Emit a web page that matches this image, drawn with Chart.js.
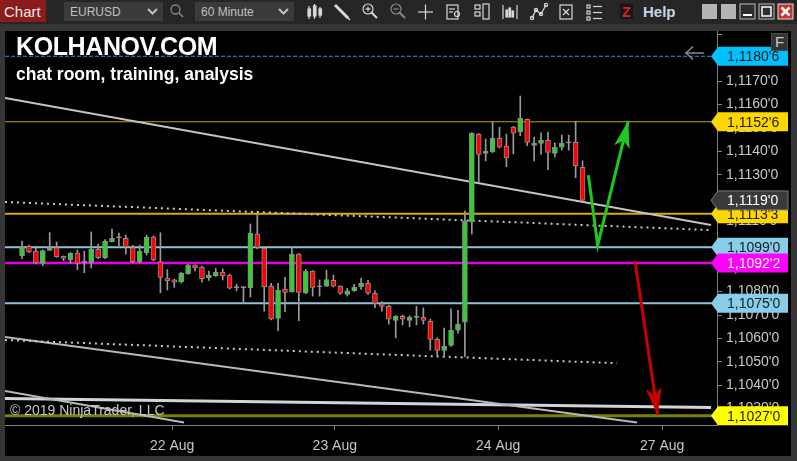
<!DOCTYPE html>
<html>
<head>
<meta charset="utf-8">
<script src="https://cdn.jsdelivr.net/npm/chart.js@4.4.1/dist/chart.umd.min.js"></script>
<style>
  html, body { margin:0; padding:0; width:797px; height:461px; overflow:hidden; background:#363636;
    font-family:"Liberation Sans", Arial, sans-serif; }
  #toolbar { position:absolute; left:0; top:0; }
  #panel { position:absolute; left:5px; top:31px; width:786px; height:425px; background:#000; }
  .txt { position:absolute; white-space:nowrap; line-height:1; color:#fff; font-weight:bold; }
  #fbox { position:absolute; left:771px; top:33px; width:15px; height:16px; background:#343434;
    border:1px solid #4a4a4a; color:#c8c8c8; font-size:15px; text-align:center; line-height:16px; }
</style>
</head>
<body>
<svg id="toolbar" width="797" height="24" xmlns="http://www.w3.org/2000/svg" font-family="Liberation Sans, Arial, sans-serif">
  <rect x="0" y="0" width="797" height="24" fill="#262626"/>
  <rect x="0" y="0" width="46" height="22" fill="#8b1c1c"/>
  <text x="4" y="17" font-size="15" fill="#e8e8e8">Chart</text>
  <rect x="64" y="2" width="99" height="19" fill="#3a3a3a"/>
  <text x="70" y="16" font-size="12" fill="#c0c0c0">EURUSD</text>
  <polyline points="148,9 152.5,13.5 157,9" fill="none" stroke="#c0c0c0" stroke-width="2"/>
  <circle cx="175.5" cy="9.5" r="4.5" fill="none" stroke="#8a8a8a" stroke-width="1.3"/>
  <line x1="178.8" y1="12.8" x2="183" y2="17" stroke="#8a8a8a" stroke-width="1.5"/>
  <rect x="195" y="2" width="99" height="19" fill="#3a3a3a"/>
  <text x="201" y="16" font-size="12" fill="#c0c0c0">60 Minute</text>
  <polyline points="279,9 283.5,13.5 288,9" fill="none" stroke="#c0c0c0" stroke-width="2"/>
  <g stroke="#d8d8d8" fill="#d8d8d8" stroke-width="1.2">
    <line x1="309" y1="6" x2="309" y2="19"/><rect x="308" y="9" width="2.5" height="7"/>
    <line x1="314.5" y1="4" x2="314.5" y2="19"/><rect x="313.5" y="6" width="2.5" height="10"/>
    <line x1="320" y1="7" x2="320" y2="18"/><rect x="319" y="9" width="2.5" height="6"/>
    <line x1="335" y1="5" x2="348" y2="18" stroke-width="3"/>
    <line x1="346" y1="16" x2="350" y2="20" stroke-width="1.5"/>
    <circle cx="368" cy="9" r="5" fill="none"/><line x1="371.5" y1="12.5" x2="377" y2="18" stroke-width="2"/>
    <line x1="365.5" y1="9" x2="370.5" y2="9"/><line x1="368" y1="6.5" x2="368" y2="11.5"/>
    <circle cx="396" cy="9" r="5" fill="none" stroke="#888"/><line x1="399.5" y1="12.5" x2="405" y2="18" stroke="#888" stroke-width="2"/>
    <line x1="393.5" y1="9" x2="398.5" y2="9" stroke="#888"/>
    <line x1="418" y1="12" x2="433" y2="12"/><line x1="425.5" y1="4.5" x2="425.5" y2="19.5"/>
    <rect x="447" y="5" width="11" height="14" fill="none"/><line x1="449" y1="9" x2="455" y2="9"/>
    <line x1="449" y1="12" x2="453" y2="12"/><circle cx="457" cy="14" r="2.5" fill="none"/>
    <rect x="475" y="5" width="5" height="4" fill="none"/><rect x="475" y="12" width="5" height="4" fill="none"/>
    <rect x="483" y="4" width="6" height="15" fill="none"/>
    <polyline points="503,5 503,19" fill="none"/><polyline points="517,5 517,19" fill="none"/>
    <rect x="506" y="10" width="1.5" height="7"/><rect x="509" y="8" width="1.5" height="9"/><rect x="512" y="11" width="1.5" height="6"/>
    <polyline points="532,18 536,10 541,14 546,5" fill="none"/>
    <circle cx="532" cy="18" r="1.6" fill="none"/><circle cx="536" cy="10" r="1.6" fill="none"/>
    <circle cx="541" cy="14" r="1.6" fill="none"/><circle cx="546" cy="5" r="1.6" fill="none"/>
    <rect x="560" y="5" width="12" height="14" fill="none"/><line x1="563" y1="9" x2="569" y2="15"/><line x1="569" y1="9" x2="563" y2="15"/>
    <rect x="587" y="5" width="3" height="3" fill="none"/><line x1="593" y1="6.5" x2="602" y2="6.5"/>
    <rect x="587" y="11" width="3" height="3" fill="none"/><line x1="593" y1="12.5" x2="602" y2="12.5"/>
    <rect x="587" y="17" width="3" height="3" fill="none"/><line x1="593" y1="18.5" x2="602" y2="18.5"/>
  </g>
  <rect x="620" y="4" width="13" height="15" fill="#161616"/>
  <text x="622" y="17" font-size="14" font-weight="bold" fill="#e02020">Z</text>
  <text x="643" y="17" font-size="15" font-weight="bold" fill="#c8d4e8">Help</text>
  <rect x="702" y="4" width="15" height="15" fill="#b4b4b4"/>
  <rect x="721" y="4" width="15" height="15" fill="#b4b4b4"/>
  <rect x="740" y="4" width="15" height="15" fill="#2e2e2e" stroke="#bbbbbb"/>
  <line x1="743" y1="15" x2="752" y2="15" stroke="#ffffff" stroke-width="2"/>
  <rect x="759" y="4" width="15" height="15" fill="#2e2e2e" stroke="#bbbbbb"/>
  <rect x="762" y="7" width="9" height="9" fill="none" stroke="#ffffff" stroke-width="1.5"/>
  <rect x="778" y="4" width="15" height="15" fill="#c83232" stroke="#dddddd"/>
  <line x1="781.5" y1="7.5" x2="789.5" y2="15.5" stroke="#ffffff" stroke-width="2.5"/>
  <line x1="789.5" y1="7.5" x2="781.5" y2="15.5" stroke="#ffffff" stroke-width="2.5"/>
</svg>

<div id="panel"><canvas id="priceChart"></canvas></div>

<div class="txt" style="left:16px;top:34px;font-size:25px;letter-spacing:-0.4px">KOLHANOV.COM</div>
<div class="txt" style="left:16px;top:66px;font-size:17.5px">chat room, training, analysis</div>
<div class="txt" style="left:10px;top:403px;font-size:14px;font-weight:normal;color:#c8c8c8">© 2019 NinjaTrader, LLC</div>
<div id="fbox">F</div>
<svg style="position:absolute;left:684px;top:45px" width="22" height="16">
  <line x1="2" y1="8" x2="20" y2="8" stroke="#8a8a8a" stroke-width="1.5"/>
  <polyline points="9,1.5 2,8 9,14.5" fill="none" stroke="#8a8a8a" stroke-width="1.5"/>
</svg>

<script>
// EURUSD 60 minute bars, 21-26 Aug
const candleOpen = [1.10953,1.10994,1.10973,1.10921,1.10976,1.10988,1.10951,1.10936,1.10965,1.10925,
  1.10925,1.10981,1.10945,1.11013,1.11030,1.11028,1.10988,1.10928,1.10966,1.11033,
  1.10929,1.10858,1.10850,1.10842,1.10876,1.10914,1.10905,1.10859,1.10868,1.10884,
  1.10871,1.10817,1.10817,1.10817,1.11046,1.10985,1.10823,1.10686,1.10811,1.10800,
  1.10961,1.10795,1.10888,1.10821,1.10823,1.10848,1.10823,1.10788,1.10804,1.10821,
  1.10835,1.10793,1.10748,1.10737,1.10677,1.10694,1.10677,1.10690,1.10690,1.10673,
  1.10596,1.10549,1.10570,1.10635,1.10669,1.11099,1.11472,1.11391,1.11398,1.11455,
  1.11422,1.11503,1.11483,1.11536,1.11425,1.11434,1.11447,1.11391,1.11417,1.11436,
  1.11438,1.11331];
const candleHigh = [1.11016,1.10999,1.10985,1.10978,1.11052,1.11012,1.10953,1.10967,1.10978,1.10973,
  1.11055,1.11003,1.11023,1.11067,1.11050,1.11042,1.10998,1.10999,1.11042,1.11038,
  1.11052,1.10894,1.10854,1.10882,1.10917,1.10915,1.10909,1.10888,1.10900,1.10897,
  1.10875,1.10832,1.10821,1.11089,1.11130,1.10986,1.10835,1.10835,1.10861,1.10988,
  1.10963,1.10895,1.10890,1.10850,1.10892,1.10871,1.10825,1.10814,1.10831,1.10857,
  1.10848,1.10803,1.10758,1.10741,1.10698,1.10700,1.10697,1.10738,1.10731,1.10683,
  1.10603,1.10644,1.10726,1.10720,1.11144,1.11480,1.11476,1.11452,1.11526,1.11503,
  1.11473,1.11506,1.11636,1.11538,1.11461,1.11479,1.11482,1.11436,1.11469,1.11469,
  1.11528,1.11359];
const candleLow = [1.10941,1.10967,1.10918,1.10911,1.10975,1.10947,1.10932,1.10921,1.10894,1.10881,
  1.10901,1.10941,1.10941,1.11012,1.10989,1.10961,1.10923,1.10923,1.10956,1.10932,
  1.10795,1.10807,1.10818,1.10837,1.10875,1.10889,1.10841,1.10848,1.10864,1.10850,
  1.10811,1.10803,1.10750,1.10777,1.10983,1.10717,1.10679,1.10633,1.10714,1.10798,
  1.10676,1.10791,1.10781,1.10781,1.10821,1.10820,1.10788,1.10781,1.10801,1.10810,
  1.10788,1.10731,1.10716,1.10661,1.10603,1.10658,1.10650,1.10658,1.10661,1.10550,
  1.10525,1.10522,1.10566,1.10622,1.10522,1.11046,1.11268,1.11359,1.11394,1.11414,
  1.11334,1.11389,1.11466,1.11424,1.11359,1.11387,1.11321,1.11376,1.11405,1.11405,
  1.11287,1.11187];
const candleClose = [1.10992,1.10970,1.10923,1.10976,1.10988,1.10949,1.10942,1.10965,1.10921,1.10925,
  1.10981,1.10945,1.11015,1.11028,1.11030,1.10991,1.10928,1.10973,1.11033,1.10936,
  1.10861,1.10847,1.10840,1.10879,1.10914,1.10902,1.10855,1.10871,1.10882,1.10867,
  1.10815,1.10817,1.10817,1.11050,1.10989,1.10821,1.10683,1.10807,1.10797,1.10961,
  1.10797,1.10888,1.10818,1.10821,1.10852,1.10823,1.10793,1.10803,1.10818,1.10835,
  1.10793,1.10750,1.10737,1.10682,1.10694,1.10682,1.10690,1.10690,1.10677,1.10596,
  1.10549,1.10566,1.10635,1.10660,1.11103,1.11477,1.11387,1.11401,1.11455,1.11417,
  1.11372,1.11477,1.11541,1.11438,1.11435,1.11447,1.11395,1.11417,1.11434,1.11436,
  1.11338,1.11190];

// date ticks (in bar units) and their labels
const dateTickPos = [21.7, 45.2, 68.8, 92.5];
const dateTickLabels = ['22 Aug', '23 Aug', '24 Aug', '27 Aug'];

// horizontal levels
const levelPrices = [1.11806, 1.11526, 1.11133, 1.10990, 1.10922, 1.10750, 1.10270];

// drawn trend lines: [bar, price] end points
const trendUpper = [[-2.46, 1.11628], [99.57, 1.11085]];
const trendUpperDots = [[-2.46, 1.11183], [99.57, 1.11063]];
const trendLowerDots = [[-2.46, 1.10593], [85.98, 1.10494]];
const trendLower = [[-2.46, 1.10606], [88.87, 1.10241]];
const trendLowerShort = [[-2.46, 1.10375], [23.41, 1.10241]];
const trendFlat = [[-2.46, 1.10343], [99.57, 1.10305]];
const greenArrow = [[81.84, 1.11298], [83.19, 1.10999], [87.61, 1.11530]];
const redArrow = [[88.58, 1.10932], [91.86, 1.10273]];

const xMin = -2.46, xMax = 100.43, yMin = 1.10230, yMax = 1.11914;

const fmtPrice = p => {
  const s = p.toFixed(5);
  return s[0] + ',' + s.slice(2, 6) + "'" + s[6];
};

const levelStyles = [
  { color: '#1ea0dc', width: 1, dash: [4, 2], tag: '#00bfff', text: '#1a1a1a' },
  { color: '#c8a000', width: 1, dash: [], tag: '#ffd700', text: '#1a1a1a' },
  { color: '#dcaa00', width: 2, dash: [], tag: '#ffd700', text: '#1a1a1a' },
  { color: '#8cc4dc', width: 2, dash: [], tag: '#87ceeb', text: '#1a1a1a' },
  { color: '#e600e6', width: 2.5, dash: [], tag: '#ff00ff', text: '#ffffff' },
  { color: '#8cc4dc', width: 2, dash: [], tag: '#87ceeb', text: '#1a1a1a' },
  { color: '#808000', width: 3, dash: [], tag: '#ffff00', text: '#1a1a1a' }
];

const toXY = arr => arr.map(([x, y]) => ({ x, y }));
const lineSet = (pts, color, width, dash, order) => ({
  type: 'line', data: toXY(pts), borderColor: color, borderWidth: width, borderDash: dash || [],
  pointRadius: 0, fill: false, tension: 0, order: order
});

const levelSets = levelPrices.map((p, i) =>
  lineSet([[xMin, p], [xMax, p]], levelStyles[i].color, levelStyles[i].width, levelStyles[i].dash, 5));

const candleIdx = candleOpen.map((_, i) => i);
const bodyColors = candleIdx.map(i =>
  candleClose[i] > candleOpen[i] ? '#33cc33' : (candleClose[i] < candleOpen[i] ? '#ff0000' : '#a0a0a0'));

const arrowSets = [
  Object.assign(lineSet(greenArrow, '#1ec81e', 3, [], 0), { arrowHead: true, borderCapStyle: 'butt' }),
  Object.assign(lineSet(redArrow, '#c80000', 3, [], 0), { arrowHead: true, borderCapStyle: 'butt' })
];

// arrow heads at the end of arrow datasets
const arrowHeads = {
  id: 'arrowHeads',
  afterDatasetsDraw(chart) {
    const ctx = chart.ctx;
    chart.data.datasets.forEach((ds, i) => {
      if (!ds.arrowHead) return;
      const pts = chart.getDatasetMeta(i).data;
      const a = pts[pts.length - 2], b = pts[pts.length - 1];
      const ang = Math.atan2(b.y - a.y, b.x - a.x);
      const len = 27, half = 8, c = Math.cos(ang), s = Math.sin(ang);
      ctx.save();
      ctx.fillStyle = ds.borderColor;
      ctx.beginPath();
      ctx.moveTo(b.x, b.y);
      ctx.lineTo(b.x - len * c + half * s, b.y - len * s - half * c);
      ctx.lineTo(b.x - len * 0.75 * c, b.y - len * 0.75 * s);
      ctx.lineTo(b.x - len * c - half * s, b.y - len * s + half * c);
      ctx.closePath();
      ctx.fill();
      ctx.restore();
    });
  }
};

// price tags on the right axis
const priceTags = {
  id: 'priceTags',
  afterDraw(chart) {
    const ctx = chart.ctx, y = chart.scales.y, right = chart.chartArea.right;
    const tags = levelPrices.map((p, i) => ({ p, fill: levelStyles[i].tag, text: levelStyles[i].text, border: null }));
    tags.push({ p: candleClose[candleClose.length - 1], fill: '#3a3a3a', text: '#ffffff', border: '#7a7a7a' });
    ctx.save();
    ctx.font = '14px "Liberation Sans", Arial, sans-serif';
    ctx.textBaseline = 'middle';
    tags.forEach(t => {
      const py = y.getPixelForValue(t.p);
      ctx.beginPath();
      ctx.moveTo(right - 6, py);
      ctx.lineTo(right + 1, py - 9.5);
      ctx.lineTo(right + 71, py - 9.5);
      ctx.lineTo(right + 71, py + 9.5);
      ctx.lineTo(right + 1, py + 9.5);
      ctx.closePath();
      ctx.fillStyle = t.fill;
      ctx.fill();
      if (t.border) { ctx.strokeStyle = t.border; ctx.lineWidth = 1; ctx.stroke(); }
      ctx.fillStyle = t.text;
      ctx.fillText(fmtPrice(t.p), right + 10, py + 1);
    });
    ctx.restore();
  }
};

Chart.defaults.font.family = '"Liberation Sans", Arial, sans-serif';
Chart.defaults.font.size = 14;

const ctx = document.getElementById('priceChart').getContext('2d');
const priceChart = new Chart(ctx, {
  type: 'bar',
  data: {
    datasets: [
      ...arrowSets,
      {
        label: 'body',
        data: candleIdx.map(i => ({ x: i, y: [candleOpen[i], candleClose[i]] })),
        backgroundColor: bodyColors,
        borderColor: '#8a8a8a',
        borderWidth: 1,
        borderSkipped: false,
        barThickness: 5,
        minBarLength: 1,
        grouped: false,
        order: 1
      },
      {
        label: 'wick',
        data: candleIdx.map(i => ({ x: i, y: [candleLow[i], candleHigh[i]] })),
        backgroundColor: '#9a9a9a',
        borderWidth: 0,
        barThickness: 1,
        grouped: false,
        order: 2
      },
      lineSet(trendUpper, '#c4c4c4', 2, [], 4),
      lineSet(trendUpperDots, '#c8c8c8', 2, [2, 4], 4),
      lineSet(trendLowerDots, '#c8c8c8', 2, [2, 4], 4),
      lineSet(trendLower, '#b8b8b8', 2, [], 4),
      lineSet(trendLowerShort, '#b8b8b8', 2, [], 4),
      lineSet(trendFlat, '#d4d4d4', 3, [], 4),
      ...levelSets
    ]
  },
  options: {
    responsive: true,
    maintainAspectRatio: false,
    animation: false,
    layout: { padding: 0 },
    plugins: { legend: { display: false }, tooltip: { enabled: false } },
    scales: {
      x: {
        type: 'linear',
        min: xMin,
        max: xMax,
        offset: false,
        grid: { offset: false, drawOnChartArea: false, drawTicks: true, tickLength: 5, color: '#808080' },
        border: { display: true, color: '#808080' },
        ticks: {
          color: '#c8c8c8',
          padding: 8,
          maxRotation: 0,
          callback: (v, i) => dateTickLabels[i]
        },
        afterBuildTicks: scale => { scale.ticks = dateTickPos.map(v => ({ value: v })); },
        afterFit: scale => {
          scale.height = 31;
          scale.paddingLeft = 0; scale.paddingRight = 0;
        }
      },
      y: {
        position: 'right',
        min: yMin,
        max: yMax,
        grid: { drawOnChartArea: false, drawTicks: true, tickLength: 5, color: '#808080' },
        border: { display: true, color: '#808080' },
        ticks: {
          stepSize: 0.001,
          includeBounds: false,
          color: '#c8c8c8',
          padding: 4,
          callback: v => (v > 1.1185 ? '' : fmtPrice(v))
        },
        afterFit: scale => {
          scale.width = 74;
          scale.paddingTop = 0; scale.paddingBottom = 0;
        }
      }
    }
  },
  plugins: [arrowHeads, priceTags]
});
</script>
</body>
</html>
